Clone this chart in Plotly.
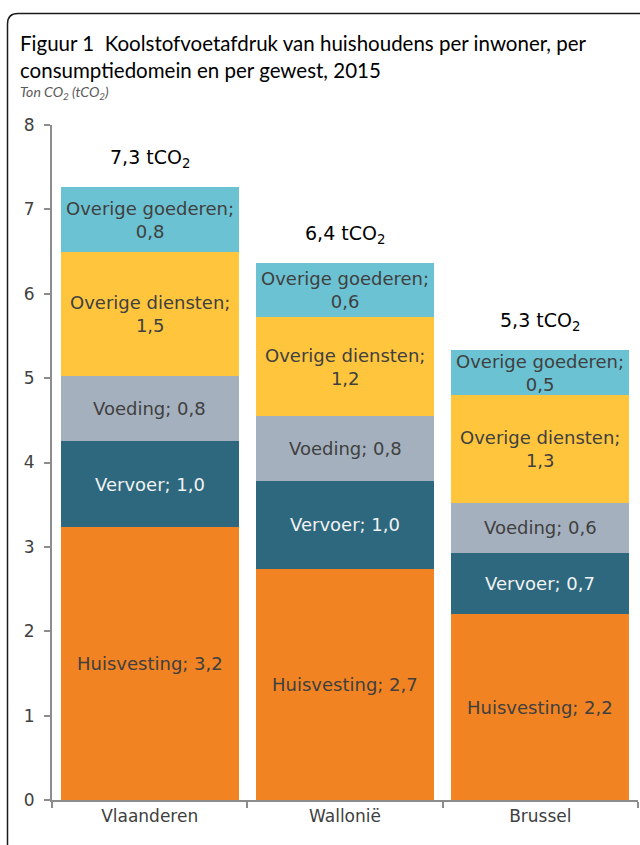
import plotly.graph_objects as go

regions = ["Vlaanderen", "Wallonië", "Brussel"]
domains = ["Huisvesting", "Vervoer", "Voeding", "Overige diensten", "Overige goederen"]
values = {
    "Huisvesting": [3.23, 2.74, 2.20],
    "Vervoer": [1.03, 1.04, 0.73],
    "Voeding": [0.76, 0.77, 0.59],
    "Overige diensten": [1.47, 1.17, 1.28],
    "Overige goederen": [0.78, 0.64, 0.53],
}
colors = {
    "Huisvesting": "#F28322",
    "Vervoer": "#2D687F",
    "Voeding": "#A5B0BE",
    "Overige diensten": "#FFC63D",
    "Overige goederen": "#6BC2D2",
}
text_colors = {
    "Huisvesting": "#404040",
    "Vervoer": "#F2F2F2",
    "Voeding": "#404040",
    "Overige diensten": "#404040",
    "Overige goederen": "#404040",
}
y_ticks = [0, 1, 2, 3, 4, 5, 6, 7, 8]

LABEL_FONT = "DejaVu Sans, sans-serif"
TITLE_FONT = "Lato, Carlito, sans-serif"


def fmt(v):
    return f"{v:.1f}".replace(".", ",")


def seg_label(name, v):
    if name.startswith("Overige"):
        return f"{name};<br>{fmt(v)}"
    return f"{name}; {fmt(v)}"


fig = go.Figure()
base = [0.0] * len(regions)
for d in domains:
    fig.add_trace(go.Bar(
        x=regions, y=values[d], name=d,
        marker=dict(color=colors[d], line=dict(width=0)),
        hoverinfo="skip",
    ))
    for i, r in enumerate(regions):
        v = values[d][i]
        fig.add_annotation(x=r, y=base[i] + v / 2, text=seg_label(d, v), showarrow=False,
                           xanchor="center", yanchor="middle", align="center",
                           font=dict(family=LABEL_FONT, size=18, color=text_colors[d]))
        base[i] += v

for r, t in zip(regions, base):
    fig.add_annotation(x=r, y=t, text=f"{fmt(t)} tCO<sub>2</sub>", showarrow=False,
                       yanchor="bottom", yshift=14,
                       font=dict(family=LABEL_FONT, size=19, color="#000000"))

W, H = 640, 845
ML, MR, MT, MB = 52, 2, 125, 45
pw, ph = W - ML - MR, H - MT - MB


def px(x):
    return (x - ML) / pw


def py(y):
    return (H - MB - y) / ph


frame = (f"M {px(7.5)},{py(860)} L {px(7.5)},{py(24)} "
         f"Q {px(7.5)},{py(13.5)} {px(18)},{py(13.5)} L {px(660)},{py(13.5)}")
fig.add_shape(type="path", path=frame, xref="paper", yref="paper",
              line=dict(color="#1a1a1a", width=1.5))

fig.add_annotation(xref="paper", yref="paper", x=px(18), y=py(29), xanchor="left", yanchor="top",
                   align="left", showarrow=False,
                   text="Figuur 1  Koolstofvoetafdruk van huishoudens per inwoner, per<br>consumptiedomein en per gewest, 2015",
                   font=dict(family=TITLE_FONT, size=20.5, color="#000000"))
fig.add_annotation(xref="paper", yref="paper", x=px(18), y=py(81), xanchor="left", yanchor="top",
                   align="left", showarrow=False,
                   text="<i>Ton CO<sub>2</sub> (tCO<sub>2</sub>)</i>",
                   font=dict(family=TITLE_FONT, size=14, color="#595959"))

fig.update_layout(
    width=W, height=H,
    margin=dict(l=ML, r=MR, t=MT, b=MB, pad=0),
    barmode="stack", bargap=0.09,
    showlegend=False,
    plot_bgcolor="white", paper_bgcolor="white",
    xaxis=dict(showline=True, linecolor="#8C8C8C", linewidth=2, ticks="outside",
               tickson="boundaries", ticklen=6, tickcolor="#8C8C8C", tickwidth=2,
               tickfont=dict(family=LABEL_FONT, size=17, color="#404040"),
               showgrid=False, fixedrange=True),
    yaxis=dict(range=[0, 8], tickvals=y_ticks, showline=True, linecolor="#8C8C8C", linewidth=2,
               ticks="outside", ticklen=6, tickcolor="#8C8C8C", tickwidth=2,
               ticklabelstandoff=6,
               tickfont=dict(family=LABEL_FONT, size=17, color="#404040"),
               showgrid=False, zeroline=False, fixedrange=True),
)

fig.write_html("out.html", config={"displayModeBar": False},
               post_script="document.body.style.margin='0px';")
